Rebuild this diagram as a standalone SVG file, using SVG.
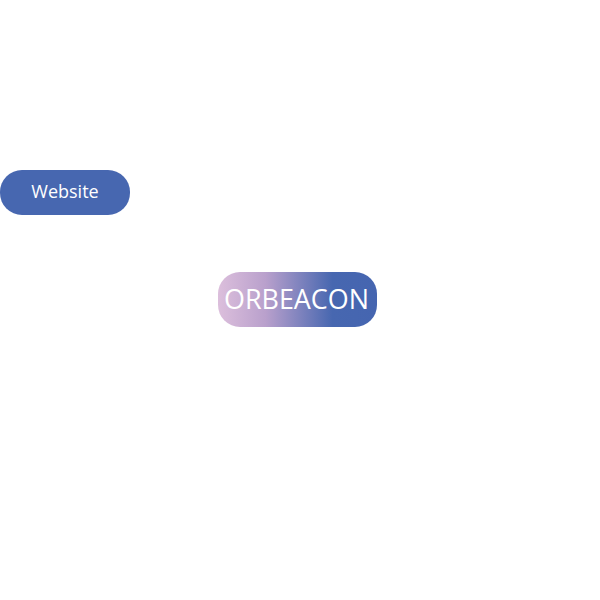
<svg xmlns="http://www.w3.org/2000/svg" width="600" height="600" viewBox="0 0 600 600">
<defs>
<linearGradient id="g" x1="0" y1="0" x2="1" y2="0">
<stop offset="0" stop-color="#dcbfdc"/>
<stop offset="0.3" stop-color="#b9a0cc"/>
<stop offset="0.72" stop-color="#4767b0"/>
<stop offset="1" stop-color="#4565b0"/>
</linearGradient>
<style>
text{font-family:"Open Sans","Liberation Sans",sans-serif;fill:#fff;text-anchor:middle;dominant-baseline:central}
</style>
</defs>
<rect width="600" height="600" fill="#fff"/>
<g id="connectors"/>
<g id="website">
<rect x="0" y="170" width="130" height="45" rx="22" fill="#4767b0"/>
<text x="65" y="191" font-size="18">Website</text>
</g>
<g id="orbeacon">
<rect x="218" y="272" width="159" height="55" rx="22" fill="url(#g)"/>
<text x="296.5" y="298" font-size="27.5" textLength="145" lengthAdjust="spacingAndGlyphs">ORBEACON</text>
</g>
</svg>
